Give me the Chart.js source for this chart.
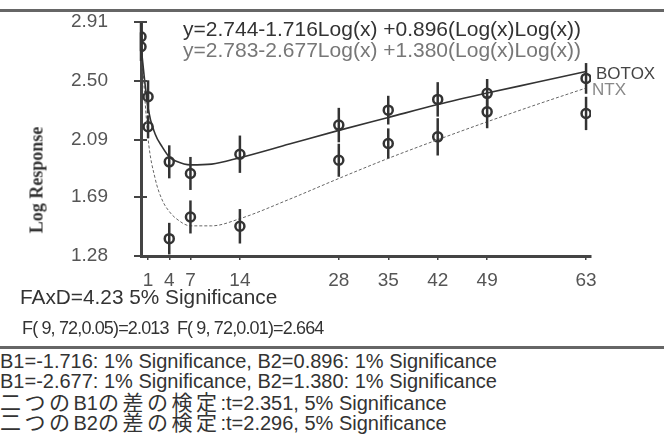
<!DOCTYPE html>
<html>
<head>
<meta charset="utf-8">
<script src="https://cdn.jsdelivr.net/npm/chart.js@4.4.1/dist/chart.umd.min.js"></script>
<style>
  body { margin: 0; background: #fff; }
  #page { position: relative; width: 664px; height: 448px; overflow: hidden; background: #fff; }
  #plot { position: absolute; left: 0; top: 0; width: 664px; height: 290px; }
  .txt { position: absolute; white-space: pre; font-family: "Liberation Sans", "Noto Sans CJK JP", sans-serif; line-height: 20px; color: #333; }
  .jp { font-family: "Noto Sans CJK JP", sans-serif; font-size: 21px; letter-spacing: 3.5px; line-height: 20px; }
  .rule { position: absolute; left: 0; width: 664px; height: 3px; background: #666; }
  #ytitle { position: absolute; left: 37px; top: 180px; transform: translate(-50%, -50%) rotate(-90deg);
    font-family: "Liberation Serif", serif; font-weight: bold; font-size: 18px; color: #333; white-space: pre; }
</style>
</head>
<body>
<div id="page">
  <div class="rule" style="top:9px"></div>
  <div id="plot"><canvas id="chart"></canvas></div>
  <div id="ytitle">Log Response</div>
  <div class="txt" style="left:183px;top:19px;font-size:21px;color:#333">y=2.744-1.716Log(x) +0.896(Log(x)Log(x))</div>
  <div class="txt" style="left:183px;top:40px;font-size:21px;color:#777">y=2.783-2.677Log(x) +1.380(Log(x)Log(x))</div>
  <div class="txt" style="left:596px;top:64px;font-size:17px;color:#444">BOTOX</div>
  <div class="txt" style="left:592px;top:80px;font-size:17px;color:#888">NTX</div>
  <div class="txt" style="left:20px;top:287px;font-size:20.8px">FAxD=4.23 5% Significance</div>
  <div class="txt" style="left:22px;top:318px;font-size:18px;letter-spacing:-0.85px">F( 9, 72,0.05)=2.013  F( 9, 72,0.01)=2.664</div>
  <div class="rule" style="top:346px"></div>
  <div class="txt" style="left:0;top:351px;font-size:20px">B1=-1.716: 1% Significance, B2=0.896: 1% Significance</div>
  <div class="txt" style="left:0;top:371px;font-size:20px">B1=-2.677: 1% Significance, B2=1.380: 1% Significance</div>
  <div class="txt" style="left:0;top:391px;font-size:20px"><span class="jp">二つの</span>B1<span class="jp">の差の検定</span>:t=2.351, 5% Significance</div>
  <div class="txt" style="left:0;top:411px;font-size:20px"><span class="jp">二つの</span>B2<span class="jp">の差の検定</span>:t=2.296, 5% Significance</div>
</div>
<script>
// measured points (days after injection)
const days = [0, 1, 4, 7, 14, 28, 35, 42, 49, 63];
const botoxMean = [2.738, 2.389, 1.936, 1.855, 1.989, 2.192, 2.296, 2.371, 2.413, 2.517];
const botoxErr = [0.10, 0.115, 0.115, 0.115, 0.13, 0.12, 0.10, 0.12, 0.10, 0.107];
const ntxMean = [2.807, 2.180, 1.401, 1.552, 1.487, 1.947, 2.064, 2.110, 2.284, 2.273];
const ntxErr = [0.10, 0.08, 0.11, 0.115, 0.12, 0.115, 0.105, 0.13, 0.114, 0.116];

// fitted curves
const fitDays = [0, 1, 2, 3, 4, 5, 7, 10, 14, 21, 28, 35, 42, 49, 56, 63];
const botoxFit = [2.74, 2.31, 2.13, 2.04, 1.97, 1.94, 1.915, 1.92, 1.965, 2.06, 2.155, 2.245, 2.335, 2.415, 2.49, 2.565];
const ntxFit = [2.78, 2.10, 1.82, 1.67, 1.59, 1.54, 1.49, 1.49, 1.54, 1.675, 1.82, 1.96, 2.09, 2.215, 2.335, 2.45];

const xTicks = [1, 4, 7, 14, 28, 35, 42, 49, 63];
const yTicks = [1.28, 1.69, 2.09, 2.50, 2.91];

const toXY = (xs, ys) => xs.map((x, i) => ({ x: x, y: ys[i] }));

// error bars and the y tick marks that cross the axis
const errorBars = {
  id: "errorBars",
  afterDatasetsDraw(chart) {
    const { ctx, scales: { x, y } } = chart;
    ctx.save();
    ctx.strokeStyle = "#333";
    ctx.lineWidth = 2.5;
    [[botoxMean, botoxErr], [ntxMean, ntxErr]].forEach(([means, errs]) => {
      days.forEach((d, i) => {
        const px = x.getPixelForValue(d);
        ctx.beginPath();
        ctx.moveTo(px, y.getPixelForValue(means[i] + errs[i]));
        ctx.lineTo(px, y.getPixelForValue(means[i] - errs[i]));
        ctx.stroke();
      });
    });
    ctx.strokeStyle = "#444";
    ctx.lineWidth = 2;
    const ax = chart.chartArea.left;
    yTicks.forEach((v) => {
      const py = Math.round(y.getPixelForValue(v));
      ctx.beginPath();
      ctx.moveTo(ax - 7, py);
      ctx.lineTo(ax + 6, py);
      ctx.stroke();
    });
    ctx.restore();
  },
};

const tickFont = { family: "Liberation Sans", size: 19 };

new Chart(document.getElementById("chart"), {
  type: "scatter",
  data: {
    datasets: [
      {
        label: "BOTOX fit",
        type: "line",
        data: toXY(fitDays, botoxFit),
        borderColor: "#333",
        borderWidth: 1.6,
        pointRadius: 0,
        cubicInterpolationMode: "monotone",
        fill: false,
      },
      {
        label: "NTX fit",
        type: "line",
        data: toXY(fitDays, ntxFit),
        borderColor: "#666",
        borderWidth: 1,
        borderDash: [3, 2],
        pointRadius: 0,
        cubicInterpolationMode: "monotone",
        fill: false,
      },
      {
        label: "BOTOX",
        data: toXY(days, botoxMean),
        showLine: false,
        pointRadius: 4.5,
        pointBorderWidth: 2.5,
        borderColor: "#333",
        backgroundColor: "rgba(0,0,0,0)",
      },
      {
        label: "NTX",
        data: toXY(days, ntxMean),
        showLine: false,
        pointRadius: 4.5,
        pointBorderWidth: 2.5,
        borderColor: "#333",
        backgroundColor: "rgba(0,0,0,0)",
      },
    ],
  },
  options: {
    responsive: true,
    maintainAspectRatio: false,
    animation: false,
    layout: { padding: { top: 22, right: 73, left: 0, bottom: 0 } },
    plugins: { legend: { display: false }, tooltip: { enabled: false } },
    scales: {
      x: {
        type: "linear",
        min: 0,
        max: 63.7,
        afterBuildTicks: (scale) => { scale.ticks = xTicks.map((v) => ({ value: v })); },
        afterFit: (scale) => { scale.height = 34; },
        border: { display: true, color: "#444", width: 3 },
        grid: { display: true, drawOnChartArea: false, tickLength: 4, color: "#444", lineWidth: 1.5 },
        ticks: { autoSkip: false, maxRotation: 0, padding: 9, color: "#555", font: tickFont },
      },
      y: {
        min: 1.28,
        max: 2.91,
        afterBuildTicks: (scale) => { scale.ticks = yTicks.map((v) => ({ value: v })); },
        afterFit: (scale) => { scale.width = 141; },
        border: { display: true, color: "#444", width: 3 },
        // long hidden tick only pushes the labels left; marks are drawn by the plugin
        grid: { display: true, drawOnChartArea: false, tickLength: 33, tickColor: "rgba(0,0,0,0)" },
        ticks: { padding: 0, color: "#555", font: tickFont, callback: (v) => v.toFixed(2) },
      },
    },
  },
  plugins: [errorBars],
});
</script>
</body>
</html>
